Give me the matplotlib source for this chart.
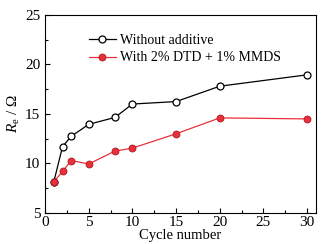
import matplotlib
matplotlib.use("Agg")
import matplotlib.pyplot as plt
from matplotlib.ticker import MultipleLocator

cycles = [1, 2, 3, 5, 8, 10, 15, 20, 30]
without_additive = [8.15, 11.7, 12.75, 13.95, 14.65, 16.0, 16.25, 17.8, 18.95]
with_additive = [8.15, 9.2, 10.3, 9.95, 11.25, 11.55, 13.0, 14.6, 14.5]
label_without = "Without additive"
label_with = "With 2% DTD + 1% MMDS"

plt.rcParams['font.family'] = ['Liberation Serif', 'DejaVu Serif']
plt.rcParams['mathtext.fontset'] = 'custom'
plt.rcParams['mathtext.rm'] = 'Liberation Serif'
plt.rcParams['mathtext.it'] = 'Liberation Serif:italic'

fig = plt.figure(figsize=(3.29, 2.44), dpi=100)
ax = fig.add_axes([0.137, 0.127, 0.823, 0.812])

ax.plot(cycles, without_additive, '-o', color='black', lw=0.9,
        markerfacecolor='white', markeredgecolor='black', markersize=5, markeredgewidth=0.9,
        label=label_without)
ax.plot(cycles, with_additive, '-o', color='#e8303a', lw=0.9,
        markerfacecolor='#e8303a', markeredgecolor='#b01820', markersize=5, markeredgewidth=0.6,
        label=label_with)

ax.set_xlim(0, 31)
ax.set_ylim(5, 25)
ax.xaxis.set_major_locator(MultipleLocator(5))
ax.xaxis.set_minor_locator(MultipleLocator(2.5))
ax.yaxis.set_major_locator(MultipleLocator(5))
ax.yaxis.set_minor_locator(MultipleLocator(2.5))
ax.tick_params(which='both', direction='in', labelsize=11, width=0.8)
ax.tick_params(axis='x', pad=2)
ax.tick_params(which='major', length=3.5)
ax.tick_params(which='minor', length=2)
for s in ax.spines.values():
    s.set_linewidth(0.8)

ax.set_xlabel('Cycle number', fontsize=10.5, labelpad=0)
ax.set_ylabel(r'$R_\mathrm{e}$ / Ω', fontsize=11, labelpad=2)

ax.legend(loc='upper left', bbox_to_anchor=(0.14, 0.93), frameon=False, fontsize=10,
          handlelength=2.0, handletextpad=0.3, labelspacing=0.3, borderaxespad=0)

fig.savefig('out.png', dpi=100)
